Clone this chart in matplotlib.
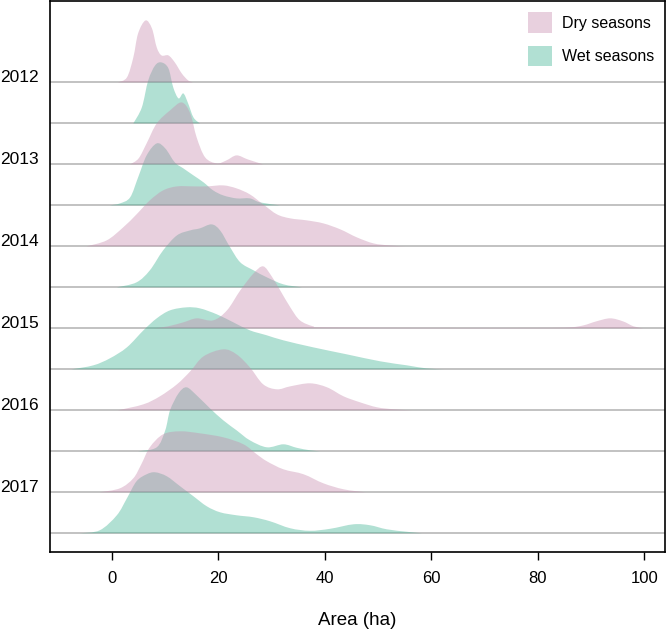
import matplotlib
matplotlib.use('Agg')
import matplotlib.pyplot as plt
from matplotlib.patches import Patch, PathPatch
from matplotlib.path import Path
import numpy as np

plt.rcParams['font.family'] = ['Liberation Sans', 'DejaVu Sans']

# Years shown on the y axis (dry ridge sits on the labelled line, wet one below)
years = [2012, 2013, 2014, 2015, 2016, 2017]

# Density ridges: area (ha) and relative ridge height
dry_area = {
    2012: [1.1, 2.8, 4.0, 4.9, 6.3, 7.5, 8.4, 9.3, 10.6, 11.8, 13.1, 14.3, 15.2],
    2013: [3.4, 5.0, 6.5, 8.4, 10.9, 13.1, 14.7, 15.9, 17.5, 19.7, 21.5, 23.4, 25.5, 28.4],
    2014: [-4.8, -1.0, 2.1, 4.6, 7.1, 9.6, 12.2, 15.3, 17.8, 20.9, 23.4, 25.9, 28.4,
           31.0, 33.5, 36.6, 39.7, 42.9, 46.0, 49.1, 52.0, 55.0],
    2015: [8.0, 10.5, 13.4, 15.9, 19.0, 21.6, 24.1, 26.6, 28.4, 30.0, 31.6, 33.5, 35.3,
           37.8, 40.0, 60.0, 80.0, 86.0, 88.6, 91.0, 93.6, 96.0, 98.0, 99.8],
    2016: [1.1, 5.9, 9.0, 12.2, 14.7, 17.2, 20.9, 23.4, 25.9, 28.4, 31.0, 33.5, 37.2,
           40.4, 43.5, 46.6, 49.8, 53.0, 56.3],
    2017: [-2.3, 1.5, 4.0, 5.5, 7.1, 9.6, 12.8, 16.5, 20.9, 24.7, 27.2, 29.1, 32.2,
           36.0, 39.7, 43.5, 47.6],
}
dry_density = {
    2012: [0, 5, 25, 49, 62, 54, 35, 27, 27, 20, 9, 2, 0],
    2013: [0, 6, 21, 41, 54, 62, 51, 27, 7, 1, 4, 9, 5, 0],
    2014: [0, 6, 19, 32, 46, 56, 60, 60, 60, 61, 58, 52, 42, 32, 28, 26, 23, 17, 9, 3, 1, 0],
    2015: [0, 2, 6, 10, 8, 18, 38, 55, 62, 52, 38, 21, 8, 2, 1, 0.5, 0.5, 1, 3, 7, 10, 7, 2, 0],
    2016: [0, 6, 14, 26, 39, 54, 61, 56, 43, 26, 21, 24, 27, 23, 14, 8, 3, 1, 0],
    2017: [0, 4, 14, 28, 45, 58, 61, 59, 55, 48, 38, 31, 23, 18, 9, 3, 0],
}
wet_area = {
    2012: [4.0, 5.6, 6.8, 8.1, 9.3, 10.6, 11.5, 12.5, 13.4, 14.3, 15.3, 16.5],
    2013: [-0.4, 1.5, 3.4, 4.9, 6.5, 8.4, 10.0, 11.8, 13.4, 15.3, 17.2, 19.0, 20.9,
           23.4, 25.9, 27.8, 31.6],
    2014: [0.9, 4.6, 7.1, 9.6, 12.2, 14.7, 16.5, 18.7, 20.3, 22.2, 24.1, 26.6, 29.1,
           32.2, 35.7],
    2015: [-7.6, -3.5, -0.4, 2.8, 5.9, 8.4, 10.9, 14.0, 16.5, 19.7, 22.8, 25.9, 29.1,
           32.2, 37.8, 44.1, 50.4, 55.4, 59.0, 62.3],
    2016: [4.9, 8.4, 10.0, 10.9, 12.5, 14.0, 15.9, 18.4, 20.9, 23.4, 25.9, 29.1, 32.2,
           34.7, 37.2, 39.1],
    2017: [-6.0, -2.3, 0.9, 2.8, 4.6, 6.5, 8.1, 10.3, 12.8, 15.3, 17.8, 20.3, 23.4,
           26.6, 29.7, 33.5, 37.2, 41.0, 45.4, 48.5, 51.6, 55.4, 58.2],
}
wet_density = {
    2012: [0, 16, 43, 58, 61, 55, 36, 25, 30, 20, 6, 0],
    2013: [0, 2, 8, 28, 50, 62, 57, 43, 37, 30, 23, 15, 10, 7, 7, 3, 0],
    2014: [0, 5, 17, 37, 52, 57, 59, 63, 57, 40, 25, 17, 10, 3, 0],
    2015: [0, 4, 11, 22, 39, 51, 59, 62, 61, 55, 47, 39, 34, 29, 22, 15, 8, 4, 1, 0],
    2016: [0, 4, 21, 41, 58, 64, 56, 43, 31, 21, 11, 4, 7, 3.5, 1, 0],
    2017: [0, 3, 18, 35, 52, 59, 61, 57, 47, 37, 27, 21, 18, 16, 12, 5, 2.5, 4.5, 9, 8, 4, 1.5, 0],
}

# Colors
dry_color = '#C68AAD'
wet_color = '#3EB291'
fill_alpha = 0.4
scale = 1 / 41.0   # relative density -> row units


def ridge(ax, xs, hs, base, color, z):
    """Filled ridge, drawn as a smooth Bezier path through the read points"""
    pts = np.column_stack([xs, base + np.array(hs) * scale])
    n = len(pts)
    verts = [pts[0]]
    codes = [Path.MOVETO]
    for i in range(n - 1):
        p0 = pts[max(i - 1, 0)]
        p1 = pts[i]
        p2 = pts[i + 1]
        p3 = pts[min(i + 2, n - 1)]
        c1 = p1 + (p2 - p0) / 6.0
        c2 = p2 - (p3 - p1) / 6.0
        c1[1] = max(c1[1], base)
        c2[1] = max(c2[1], base)
        verts += [c1, c2, p2]
        codes += [Path.CURVE4] * 3
    verts.append((pts[0][0], base))
    codes.append(Path.LINETO)
    verts.append(pts[0])
    codes.append(Path.CLOSEPOLY)
    ax.add_patch(PathPatch(Path(verts, codes), facecolor=color, alpha=fill_alpha,
                           lw=0, zorder=z))


fig = plt.figure(figsize=(6.67, 6.31), dpi=100)
ax = fig.add_axes([0.075, 0.125, 0.922, 0.873])

n = len(years)
dry_base = {yr: 2 * (n - 1 - i) + 1 for i, yr in enumerate(years)}
wet_base = {yr: 2 * (n - 1 - i) for i, yr in enumerate(years)}

# baseline lines across the panel
for yr in years:
    for b in (dry_base[yr], wet_base[yr]):
        ax.axhline(b, color='#BDBDBD', lw=1.3, zorder=1)

# wet ridges first, dry ridges drawn over them
for yr in years:
    ridge(ax, wet_area[yr], wet_density[yr], wet_base[yr], wet_color, 2)
for yr in years:
    ridge(ax, dry_area[yr], dry_density[yr], dry_base[yr], dry_color, 3)

ax.set_xlim(-11.65, 103.9)
ax.set_ylim(-0.46, 12.98)

ax.set_xticks([0, 20, 40, 60, 80, 100])
ax.tick_params(axis='x', length=5.5, width=1, direction='out', labelsize=12,
               pad=8, color='black')
ax.set_yticks([dry_base[yr] for yr in years])
ax.set_yticklabels([str(yr) for yr in years])
ax.tick_params(axis='y', length=0, labelsize=12.5, pad=8)
for lbl in ax.get_yticklabels():
    lbl.set_verticalalignment('baseline')

for s in ax.spines.values():
    s.set_linewidth(1.2)
    s.set_color('black')

ax.set_xlabel('Area (ha)', fontsize=13.5, labelpad=19)

handles = [Patch(facecolor=dry_color, alpha=fill_alpha, edgecolor='none', label='Dry seasons'),
           Patch(facecolor=wet_color, alpha=fill_alpha, edgecolor='none', label='Wet seasons')]
ax.legend(handles=handles, loc='upper right', frameon=False, fontsize=11.5,
          handlelength=1.5, handleheight=1.6, handletextpad=0.6, labelspacing=0.8,
          borderaxespad=0.25, borderpad=0.45)

plt.savefig('out.png', dpi=100, facecolor='white')
